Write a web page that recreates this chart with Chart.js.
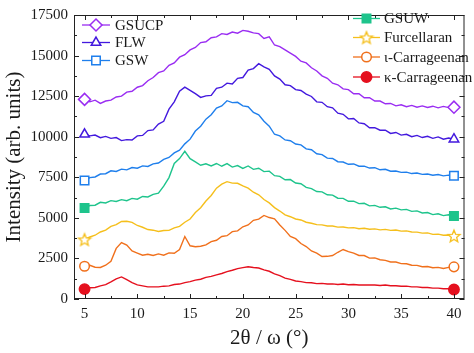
<!DOCTYPE html>
<html>
<head>
<meta charset="utf-8">
<script src="https://cdn.jsdelivr.net/npm/chart.js@4/dist/chart.umd.min.js"></script>
<style>
  body { margin: 0; background: #fff; }
  canvas { display: block; }
</style>
</head>
<body>
<canvas id="xrdChart" width="474" height="353"></canvas>
<script>
// 2theta positions (deg)
const twoTheta = [5, 5.5, 6, 6.5, 7, 7.5, 8, 8.5, 9, 9.5, 10, 10.5, 11, 11.5, 12, 12.5, 13, 13.5, 14, 14.5,
    15, 15.5, 16, 16.5, 17, 17.5, 18, 18.5, 19, 19.5, 20, 20.5, 21, 21.5, 22, 22.5, 23, 23.5, 24, 24.5,
    25, 25.5, 26, 26.5, 27, 27.5, 28, 28.5, 29, 29.5, 30, 30.5, 31, 31.5, 32, 32.5, 33, 33.5, 34, 34.5,
    35, 35.5, 36, 36.5, 37, 37.5, 38, 38.5, 39, 39.5, 40];

// Intensities (arb. units, already offset)
const gsucp = [12300, 12150, 12250, 12050, 12200, 12250, 12450, 12500, 12750, 12800,
    13050, 13150, 13450, 13650, 13950, 14050, 14400, 14550, 14900, 15050,
    15350, 15500, 15800, 15850, 16100, 16150, 16350, 16300, 16450, 16380,
    16550, 16500, 16400, 16350, 16050, 16150, 15650, 15550, 15350, 15150,
    14950, 14650, 14550, 14250, 14050, 13750, 13600, 13300, 13200, 12950,
    12900, 12650, 12650, 12400, 12400, 12200, 12200, 12030, 12050, 11900,
    11970, 11850, 11930, 11820, 11900, 11800, 11880, 11780, 11870, 11790, 11820];
const flw = [10150, 10050, 10100, 9940, 10020, 9900, 9950, 9760, 9820, 9800,
    10050, 10080, 10380, 10420, 10780, 10950, 11700, 12150, 12800, 13050,
    12850, 12650, 12420, 12520, 12550, 12980, 13050, 13300, 13250, 13600,
    13650, 14100, 14200, 14500, 14300, 14150, 13750, 13550, 13200, 13150,
    12900, 12850, 12620, 12480, 12150, 12120, 11850, 11780, 11450, 11380,
    11100, 11120, 10850, 10800, 10550, 10560, 10400, 10400, 10200, 10260,
    10100, 10150, 10000, 10080, 9950, 10030, 9900, 9990, 9850, 9920, 9850];
const gsw = [7300, 7480, 7520, 7700, 7720, 7900, 7860, 8000, 7960, 8100,
    8060, 8200, 8170, 8330, 8380, 8600, 8720, 9000, 9170, 9560,
    9850, 10350, 10650, 11080, 11350, 11760, 11900, 12220, 12100, 12120,
    11900, 11850, 11500, 11350, 10950, 10650, 10150, 10050, 9800, 9750,
    9550, 9500, 9250, 9200, 8950, 8900, 8680, 8660, 8460, 8440,
    8300, 8320, 8180, 8190, 8070, 8090, 7960, 7990, 7870, 7890,
    7800, 7820, 7730, 7760, 7680, 7700, 7630, 7670, 7590, 7630, 7590];
const gsuw = [5610, 5760, 5780, 5960, 5920, 6060, 6010, 6120, 6060, 6200,
    6150, 6320, 6290, 6450, 6520, 6950, 7480, 8350, 8650, 9100,
    8650, 8450, 8240, 8330, 8200, 8350, 8180, 8340, 8130, 8220,
    8050, 8200, 7990, 8060, 7850, 7880, 7600, 7560, 7350, 7360,
    7150, 7100, 6880, 6800, 6620, 6600, 6420, 6400, 6210, 6200,
    6020, 6030, 5880, 5900, 5740, 5770, 5650, 5680, 5550, 5600,
    5490, 5520, 5400, 5430, 5300, 5330, 5200, 5250, 5140, 5190, 5120];
const furcellaran = [3670, 3820, 3930, 4130, 4240, 4470, 4580, 4780, 4790, 4720,
    4530, 4420, 4280, 4240, 4160, 4220, 4230, 4380, 4480, 4730,
    4930, 5330, 5620, 6040, 6380, 6830, 7080, 7230, 7140, 7130,
    6970, 6830, 6580, 6420, 6130, 5920, 5630, 5420, 5180, 5070,
    4930, 4870, 4730, 4670, 4580, 4570, 4500, 4500, 4430, 4440,
    4380, 4400, 4330, 4360, 4300, 4320, 4260, 4290, 4230, 4250,
    4180, 4200, 4130, 4120, 4060, 4070, 3980, 4000, 3930, 3940, 3890];
const iotaCarr = [2020, 2080, 1960, 1940, 2080, 2330, 3120, 3480, 3320, 2960,
    2830, 2700, 2760, 2680, 2780, 2700, 2840, 2820, 3050, 3850,
    3280, 3220, 3250, 3330, 3540, 3620, 3850, 3900, 4150, 4200,
    4450, 4560, 4850, 4920, 5150, 5020, 4940, 4560, 4230, 3860,
    3720, 3420, 3230, 2960, 2830, 2620, 2630, 2680, 2880, 3050,
    2920, 2830, 2680, 2680, 2520, 2530, 2420, 2380, 2280, 2280,
    2180, 2170, 2080, 2070, 1990, 2000, 1930, 1950, 1880, 1950, 1980];
const kappaCarr = [610, 690, 710, 810, 890, 1060, 1240, 1360, 1190, 1010,
    870, 810, 750, 750, 750, 790, 810, 890, 920, 1010,
    1070, 1160, 1220, 1330, 1390, 1490, 1570, 1690, 1770, 1870,
    1930, 1990, 1940, 1910, 1790, 1710, 1550, 1440, 1290, 1210,
    1110, 1070, 1010, 1000, 950, 960, 920, 930, 890, 920,
    880, 890, 860, 870, 860, 860, 830, 860, 820, 820,
    790, 790, 750, 750, 710, 710, 670, 670, 630, 630, 590];

const seriesNames = ['GSUCP', 'FLW', 'GSW', 'GSUW', 'Furcellaran', '\u03B9-Carrageenan', '\u03BA-Carrageenan'];
const seriesValues = [gsucp, flw, gsw, gsuw, furcellaran, iotaCarr, kappaCarr];

// Axis ticks
const xTicks = [5, 10, 15, 20, 25, 30, 35, 40];
const xMinorTicks = [7.5, 12.5, 17.5, 22.5, 27.5, 32.5, 37.5];
const yTicks = [0, 2500, 5000, 7500, 10000, 12500, 15000, 17500];
const yMinorTicks = [1250, 3750, 6250, 8750, 11250, 13750, 16250];

const serif = "'Liberation Serif', 'Times New Roman', serif";
const inkColor = '#1a1a1a';

// Outline star used for Furcellaran
function makeStar(color) {
    const c = document.createElement('canvas');
    c.width = 16;
    c.height = 16;
    const g = c.getContext('2d');
    g.beginPath();
    for (let k = 0; k < 10; k++) {
        const r = k % 2 ? 2.8 : 6.4;
        const a = -Math.PI / 2 + k * Math.PI / 5;
        const px = 8 + r * Math.cos(a);
        const py = 8.6 + r * Math.sin(a);
        if (k === 0) g.moveTo(px, py); else g.lineTo(px, py);
    }
    g.closePath();
    g.fillStyle = '#fff';
    g.fill();
    g.strokeStyle = color;
    g.lineWidth = 1.3;
    g.stroke();
    return c;
}

const styles = [
    { color: '#9a2df2', point: 'rectRot', radius: 6, fill: '#fff' },
    { color: '#4319de', point: 'triangle', radius: 5.5, fill: '#fff' },
    { color: '#1f7fec', point: 'rect', radius: 6, fill: '#fff' },
    { color: '#1ec48c', point: 'rect', radius: 6, fill: '#1ec48c' },
    { color: '#f5bf1c', point: null, radius: 8, fill: '#fff' },
    { color: '#f0701c', point: 'circle', radius: 4.8, fill: '#fff' },
    { color: '#e5101e', point: 'circle', radius: 5.2, fill: '#e5101e' },
];
styles[4].point = makeStar(styles[4].color);

const lastIndex = twoTheta.length - 1;

const datasets = seriesNames.map((name, i) => ({
    label: name,
    data: twoTheta.map((x, j) => ({ x: x, y: seriesValues[i][j] })),
    borderColor: styles[i].color,
    backgroundColor: styles[i].fill,
    pointBackgroundColor: styles[i].fill,
    pointBorderColor: styles[i].color,
    pointStyle: styles[i].point,
    pointBorderWidth: 1.5,
    pointRadius: (c) => (c.dataIndex === 0 || c.dataIndex === lastIndex) ? styles[i].radius : 0,
    borderWidth: 1.4,
    tension: 0,
    clip: false,
}));

// Box frame with inward major/minor ticks on all four sides
const frameTicks = {
    id: 'frameTicks',
    afterDatasetsDraw(chart) {
        const { ctx, chartArea: a, scales: { x, y } } = chart;
        ctx.save();
        ctx.strokeStyle = '#222';
        ctx.lineWidth = 1;
        ctx.strokeRect(a.left + 0.5, a.top + 0.5, a.right - a.left - 1, a.bottom - a.top - 1);
        ctx.beginPath();
        const xMark = (v, len) => {
            const px = Math.round(x.getPixelForValue(v)) + 0.5;
            ctx.moveTo(px, a.bottom);
            ctx.lineTo(px, a.bottom - len);
            ctx.moveTo(px, a.top);
            ctx.lineTo(px, a.top + len);
        };
        const yMark = (v, len) => {
            const py = Math.round(y.getPixelForValue(v)) + 0.5;
            ctx.moveTo(a.left, py);
            ctx.lineTo(a.left + len, py);
            ctx.moveTo(a.right, py);
            ctx.lineTo(a.right - len, py);
        };
        xTicks.forEach(v => xMark(v, 5));
        xMinorTicks.forEach(v => xMark(v, 3));
        yTicks.forEach(v => yMark(v, 5));
        yMinorTicks.forEach(v => yMark(v, 3));
        ctx.stroke();
        ctx.restore();
    }
};

// Two separate legend boxes (left: 3 items, right: 4 items)
const twoLegends = {
    id: 'twoLegends',
    afterDraw(chart) {
        const ctx = chart.ctx;
        const groups = [
            { items: [0, 1, 2], x0: 82, x1: 110, tx: 115, ys: [25, 42.5, 60.5] },
            { items: [3, 4, 5, 6], x0: 353, x1: 380, tx: 384, ys: [18.5, 37.5, 57, 77] },
        ];
        ctx.save();
        groups.forEach(g => {
            g.items.forEach((idx, k) => {
                const ds = chart.data.datasets[idx];
                const st = styles[idx];
                const yy = g.ys[k];
                ctx.strokeStyle = st.color;
                ctx.lineWidth = 1.3;
                ctx.beginPath();
                ctx.moveTo(g.x0, yy);
                ctx.lineTo(g.x1, yy);
                ctx.stroke();
                ctx.fillStyle = st.fill;
                ctx.strokeStyle = st.color;
                ctx.lineWidth = 1.5;
                Chart.helpers.drawPoint(ctx, {
                    pointStyle: st.point, radius: st.radius, borderWidth: 1.5, rotation: 0
                }, (g.x0 + g.x1) / 2, yy);
                ctx.fillStyle = inkColor;
                ctx.font = '15px ' + serif;
                ctx.textBaseline = 'middle';
                ctx.textAlign = 'left';
                ctx.fillText(ds.label, g.tx, yy + 1);
            });
        });
        ctx.restore();
    }
};

new Chart(document.getElementById('xrdChart'), {
    type: 'line',
    data: { datasets: datasets },
    options: {
        responsive: false,
        animation: false,
        devicePixelRatio: 1,
        layout: { padding: { top: 5, right: 1, left: 0, bottom: 0 } },
        plugins: {
            legend: { display: false },
            tooltip: { enabled: false },
        },
        scales: {
            x: {
                type: 'linear',
                min: 4,
                max: 41,
                grid: { display: false, drawTicks: false },
                border: { display: false },
                afterBuildTicks: (scale) => { scale.ticks = xTicks.map(v => ({ value: v })); },
                afterFit: (scale) => { scale.height = 54; },
                ticks: {
                    padding: 6,
                    maxRotation: 0,
                    color: inkColor,
                    font: { family: serif, size: 15 },
                    callback: (v) => String(v),
                },
                title: {
                    display: true,
                    text: '2\u03B8 / \u03C9 (\u00B0)',
                    color: inkColor,
                    font: { family: serif, size: 21 },
                    padding: { top: 0, bottom: 2 },
                },
            },
            y: {
                min: 0,
                max: 17500,
                grid: { display: false, drawTicks: false },
                border: { display: false },
                afterBuildTicks: (scale) => { scale.ticks = yTicks.map(v => ({ value: v })); },
                afterFit: (scale) => { scale.width = 74; },
                ticks: {
                    padding: 6,
                    color: inkColor,
                    font: { family: serif, size: 15 },
                    callback: (v) => String(v),
                },
                title: {
                    display: true,
                    text: 'Intensity (arb. units)',
                    color: inkColor,
                    font: { family: serif, size: 21 },
                    padding: { top: 2, bottom: 0 },
                },
            },
        },
    },
    plugins: [frameTicks, twoLegends],
});
</script>
</body>
</html>
